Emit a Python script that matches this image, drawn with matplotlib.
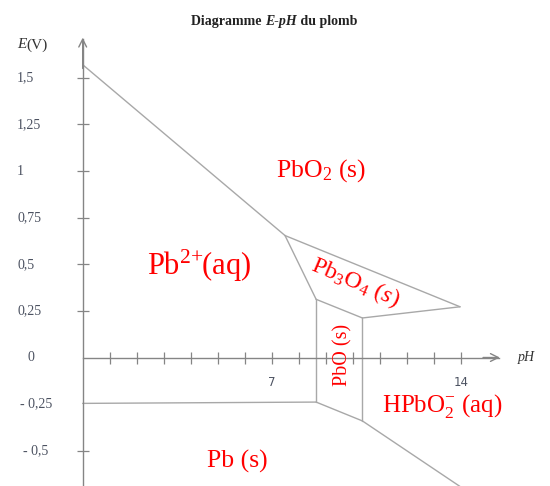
import matplotlib.pyplot as plt
import matplotlib.transforms as mtransforms

plt.rcParams['mathtext.fontset'] = 'custom'
plt.rcParams['mathtext.rm'] = 'Liberation Serif'
plt.rcParams['mathtext.it'] = 'Liberation Serif:italic'

# boundary lines of the diagram (pH, E in V)
pb2_pbo2_ph = [0, 7.48]
pb2_pbo2_E = [1.57, 0.654]
pbo2_pb3o4_ph = [7.48, 13.95]
pbo2_pb3o4_E = [0.654, 0.272]
pb2_pb3o4_ph = [7.48, 8.63]
pb2_pb3o4_E = [0.654, 0.312]
pb3o4_pbo_ph = [8.63, 10.34]
pb3o4_pbo_E = [0.312, 0.212]
pb3o4_hpbo2_ph = [10.34, 13.95]
pb3o4_hpbo2_E = [0.212, 0.272]
pb2_pbo_ph = [8.63, 8.63]
pb2_pbo_E = [0.312, -0.239]
pbo_hpbo2_ph = [10.34, 10.34]
pbo_hpbo2_E = [0.212, -0.340]
pb2_pb_ph = [0, 8.63]
pb2_pb_E = [-0.246, -0.239]
pbo_pb_ph = [8.63, 10.34]
pbo_pb_E = [-0.239, -0.340]
hpbo2_pb_ph = [10.34, 14.6]
hpbo2_pb_E = [-0.340, -0.755]

x_ticks = list(range(1, 15))
x_labels = {7: '7', 14: '14'}
y_ticks = [1.5, 1.25, 1, 0.75, 0.5, 0.25, 0, -0.25, -0.5]
y_labels = ['1,5', '1,25', '1', '0,75', '0,5', '0,25', '0', '- 0,25', '- 0,5']

species = ['PbO$_2$ (s)', 'Pb$^{2\\!+\\!\\!}$(aq)', 'Pb$_3$O$_4$ $\\it{(s)}$',
           'PbO (s)', 'HPbO$_2^{-}$ (aq)', 'Pb (s)']
species_ph = [8.81, 4.30, 10.07, 9.62, 13.29, 5.70]
species_E = [1.005, 0.49, 0.40, 0.013, -0.258, -0.555]
species_size = [18.5, 22, 17.5, 14.5, 18, 18.5]
species_rot = [0, 0, -23, 90, 0, 0]

line_col = '#a8a8a8'
axis_col = '#858585'
tick_col = '#4c5261'

fig = plt.figure(figsize=(5.5, 4.86), dpi=100)
ax = fig.add_axes([0, 0, 1, 1])
ax.set_xlim(-3.057, 17.276)
ax.set_ylim(-0.689, 1.917)

for ph, e in [(pb2_pbo2_ph, pb2_pbo2_E), (pbo2_pb3o4_ph, pbo2_pb3o4_E),
              (pb2_pb3o4_ph, pb2_pb3o4_E), (pb3o4_pbo_ph, pb3o4_pbo_E),
              (pb3o4_hpbo2_ph, pb3o4_hpbo2_E), (pb2_pbo_ph, pb2_pbo_E),
              (pbo_hpbo2_ph, pbo_hpbo2_E), (pb2_pb_ph, pb2_pb_E),
              (pbo_pb_ph, pbo_pb_E), (hpbo2_pb_ph, hpbo2_pb_E)]:
    ax.plot(ph, e, color=line_col, lw=1.0, solid_capstyle='round')

# axes through the origin, with open arrow heads
for s in ['top', 'right']:
    ax.spines[s].set_visible(False)
ax.spines['left'].set_position(('data', 0))
ax.spines['bottom'].set_position(('data', 0))
ax.spines['left'].set_bounds(-0.689, 1.71)
ax.spines['bottom'].set_bounds(0, 15.4)
for s in ['left', 'bottom']:
    ax.spines[s].set_color(axis_col)
    ax.spines[s].set_linewidth(1.0)
ax.annotate('', xy=(0, 1.715), xytext=(0, 1.55),
            arrowprops=dict(arrowstyle='->', color=axis_col, lw=1.0,
                            mutation_scale=14, shrinkA=0, shrinkB=0))
ax.annotate('', xy=(15.42, 0), xytext=(14.8, 0),
            arrowprops=dict(arrowstyle='->', color=axis_col, lw=1.0,
                            mutation_scale=14, shrinkA=0, shrinkB=0))

ax.set_xticks(list(x_labels.keys()), list(x_labels.values()))
ax.set_xticks([t for t in x_ticks if t not in x_labels], minor=True)
ax.tick_params(axis='x', which='both', direction='inout', length=9,
               width=0.9, color=axis_col, labelsize=8.5, labelcolor=tick_col,
               pad=9)

ax.set_yticks(y_ticks, [''] * len(y_ticks))
ax.tick_params(axis='y', direction='inout', length=9, width=0.9,
               color=axis_col)
for t, v in zip(ax.yaxis.get_major_ticks(), y_ticks):
    if v in (0, -0.25):
        t.tick1line.set_visible(False)

lab_tr = mtransforms.blended_transform_factory(ax.transAxes, ax.transData)
lab_x = [17, 17, 17, 17, 17, 17, 28, 20, 23]
for v, lab, px in zip(y_ticks, y_labels, lab_x):
    ax.text(px / 550, v, lab, transform=lab_tr, ha='left', va='center',
            fontsize=10, color=tick_col, family='Liberation Serif')

ax.text(518 / 550, 0, 'pH', transform=lab_tr, ha='left', va='center',
        fontsize=10, style='italic', color='#333333', family='Liberation Serif')

e_lab = fig.text(17 / 550, 1 - 45 / 486, 'E', ha='left', va='center',
                 fontsize=11, style='italic', color='#333333',
                 family='Liberation Serif')
ax.annotate('(V)', xy=(1, 0), xycoords=e_lab, va='bottom', ha='left',
            fontsize=11, color='#333333', family='Liberation Serif')

# title in three pieces (bold, bold italic, bold)
t1 = fig.text(191 / 550, 1 - 21 / 486, 'Diagramme ', ha='left', va='center',
              fontsize=10, weight='bold', color='#222222',
              family='Liberation Serif')
t2 = ax.annotate('E-pH', xy=(1, 0), xycoords=t1, va='bottom', ha='left',
                 fontsize=10, weight='bold', style='italic', color='#222222',
                 family='Liberation Serif')
ax.annotate(' du plomb', xy=(1, 0), xycoords=t2, va='bottom', ha='left',
            fontsize=10, weight='bold', color='#222222',
            family='Liberation Serif')

for lab, x, y, sz, rot in zip(species, species_ph, species_E, species_size,
                              species_rot):
    ax.text(x, y, lab, ha='center', va='center', fontsize=sz, rotation=rot,
            rotation_mode='anchor', color='red', family='Liberation Serif')

fig.savefig('out.png', dpi=100, facecolor='white')
